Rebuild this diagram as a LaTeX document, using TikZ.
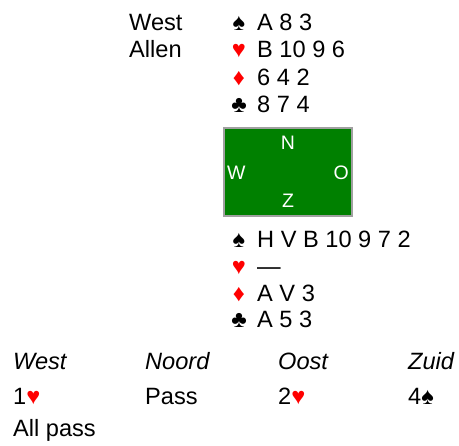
\documentclass[tikz,border=0pt]{standalone}
\usepackage{fontspec}
\setmainfont{Liberation Sans}
\definecolor{suitred}{RGB}{255,0,0}
\definecolor{boardgreen}{RGB}{0,128,0}
\definecolor{boardgray}{RGB}{160,160,160}
\begin{document}
\begin{tikzpicture}[x=1pt,y=1pt,
  txt/.style={inner sep=0pt,anchor=base west,font=\fontsize{23.6}{28}\selectfont},
  suit/.style={inner sep=0pt,anchor=base,font=\fontsize{23.6}{28}\selectfont},
  redsuit/.style={suit,text=suitred},
  dir/.style={inner sep=0pt,text=white,font=\fontsize{19.5}{22}\selectfont},
  bid/.style={txt,font=\fontsize{23.6}{28}\selectfont\itshape}]
\useasboundingbox (0,0) rectangle (459,-446);
% North
\node[txt] (nw) at (129,-31) {West};
\node[txt] (na) at (129,-58) {Allen};
\node[suit] (ns) at (239,-31) {♠};
\node[txt] (nst) at (257,-31) {A 8 3};
\node[redsuit] (nh) at (239,-58) {♥};
\node[txt] (nht) at (257,-58) {B 10 9 6};
\node[redsuit] (nd) at (239,-86) {♦};
\node[txt] (ndt) at (257,-86) {6 4 2};
\node[suit] (nc) at (239,-113) {♣};
\node[txt] (nct) at (257,-113) {8 7 4};
% Board
\path[fill=boardgreen,draw=boardgray,line width=2pt] (224,-128) rectangle (352,-216);
\node[dir] (dn) at (288,-143) {N};
\node[dir,anchor=west] (dw) at (227,-173) {W};
\node[dir,anchor=east] (do) at (349,-173) {O};
\node[dir] (dz) at (288,-201) {Z};
% South
\node[suit] (ss) at (239,-248) {♠};
\node[txt] (sst) at (257,-248) {H V B 10 9 7 2};
\node[redsuit] (sh) at (239,-275) {♥};
\node[txt] (sht) at (257,-275) {—};
\node[redsuit] (sd) at (239,-302) {♦};
\node[txt] (sdt) at (257,-302) {A V 3};
\node[suit] (sc) at (239,-328) {♣};
\node[txt] (sct) at (257,-328) {A 5 3};
% Bidding
\node[bid] (bw) at (13,-370) {West};
\node[bid] (bn) at (145,-370) {Noord};
\node[bid] (bo) at (278,-370) {Oost};
\node[bid] (bz) at (408,-370) {Zuid};
\node[txt] (b1) at (13,-405) {1\textcolor{suitred}{♥}};
\node[txt] (b2) at (145,-405) {Pass};
\node[txt] (b3) at (278,-405) {2\textcolor{suitred}{♥}};
\node[txt] (b4) at (408,-405) {4♠};
\node[txt] (b5) at (13,-437) {All pass};
\end{tikzpicture}
\end{document}
